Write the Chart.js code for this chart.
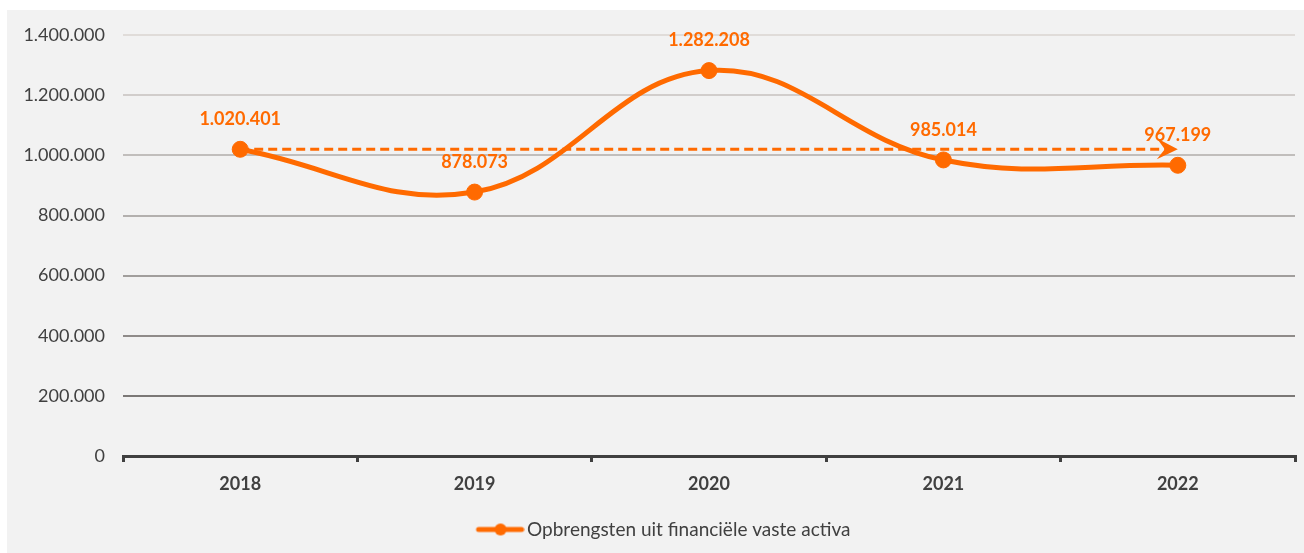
<!DOCTYPE html>
<html>
<head>
<meta charset="utf-8">
<script src="https://cdn.jsdelivr.net/npm/chart.js@4/dist/chart.umd.min.js"></script>
<style>
  html, body { margin: 0; padding: 0; background: #ffffff; }
  #wrap { position: absolute; left: 7px; top: 10px; width: 1297px; height: 543px; background: #f2f2f2; }
  canvas { display: block; }
</style>
</head>
<body>
<div id="wrap"><canvas id="chart" width="1297" height="543"></canvas></div>
<script>
// Opbrengsten uit financiële vaste activa per jaar
const years = ['2018', '2019', '2020', '2021', '2022'];
const revenue = [1020401, 878073, 1282208, 985014, 967199];
// Trendpijl vanaf de startwaarde van 2018 tot 2022
const trend = [1020401, null, null, null, 1020401];
const seriesName = 'Opbrengsten uit financiële vaste activa';
const yTicks = [0, 200000, 400000, 600000, 800000, 1000000, 1200000, 1400000];

const ORANGE = '#ff6a00';
const TEXT = '#404040';
const FONT = 'Lato, "Open Sans", sans-serif';

// Gridlines fade from dark at the bottom to light at the top
const gridShades = {
  200000: '#7b7876', 400000: '#8f8b89', 600000: '#a19e9c', 800000: '#b3b0ae',
  1000000: '#c1bebc', 1200000: '#d1cdcb', 1400000: '#e0dcd9'
};

function fmt(v) {
  return String(Math.round(v)).replace(/\B(?=(\d{3})+(?!\d))/g, '.');
}

// Legend symbol: line with a dot in the middle (left part of the image kept empty)
const legendIcon = document.createElement('canvas');
legendIcon.width = 78; legendIcon.height = 14;
(function () {
  const c = legendIcon.getContext('2d');
  c.strokeStyle = ORANGE; c.lineWidth = 5; c.lineCap = 'round';
  c.beginPath(); c.moveTo(32, 7); c.lineTo(75, 7); c.stroke();
  c.fillStyle = ORANGE; c.beginPath(); c.arc(54, 7, 6, 0, Math.PI * 2); c.fill();
})();

const valueLabels = {
  id: 'valueLabels',
  afterDatasetsDraw(chart) {
    const meta = chart.getDatasetMeta(0);
    const ctx = chart.ctx;
    ctx.save();
    ctx.font = 'bold 18px ' + FONT;
    ctx.fillStyle = ORANGE;
    ctx.textAlign = 'center';
    ctx.textBaseline = 'middle';
    meta.data.forEach((pt, i) => {
      ctx.fillText(fmt(revenue[i]), pt.x, pt.y - 30);
    });
    ctx.restore();
  }
};

const trendArrow = {
  id: 'trendArrow',
  afterDatasetDraw(chart, args) {
    if (args.index !== 1) return;
    const pts = args.meta.data;
    const end = pts[pts.length - 1];
    const ctx = chart.ctx;
    ctx.save();
    ctx.fillStyle = ORANGE;
    ctx.beginPath();
    ctx.moveTo(end.x, end.y);
    ctx.lineTo(end.x - 21, end.y - 11);
    ctx.lineTo(end.x - 13, end.y);
    ctx.lineTo(end.x - 21, end.y + 10);
    ctx.closePath();
    ctx.fill();
    ctx.restore();
  }
};

new Chart(document.getElementById('chart'), {
  type: 'line',
  data: {
    labels: years,
    datasets: [
      {
        label: seriesName,
        data: revenue,
        borderColor: ORANGE,
        backgroundColor: ORANGE,
        borderWidth: 5,
        tension: 0.4,
        pointRadius: 8,
        pointBorderWidth: 1,
        pointBackgroundColor: ORANGE,
        pointBorderColor: ORANGE,
        order: 1
      },
      {
        label: 'trend',
        data: trend,
        spanGaps: true,
        borderColor: ORANGE,
        borderWidth: 3,
        borderDash: [9, 5],
        tension: 0,
        pointRadius: 0,
        order: 2
      }
    ]
  },
  options: {
    responsive: false,
    animation: false,
    layout: { padding: { top: 22, right: 7, left: 0, bottom: 4 } },
    plugins: {
      tooltip: { enabled: false },
      legend: {
        position: 'bottom',
        labels: {
          filter: (item) => item.datasetIndex === 0,
          usePointStyle: true,
          pointStyleWidth: 64,
          boxHeight: 14,
          color: TEXT,
          font: { family: FONT, size: 19 },
          padding: 10,
          generateLabels: (chart) => [{
            text: seriesName,
            datasetIndex: 0,
            pointStyle: legendIcon,
            fillStyle: ORANGE,
            strokeStyle: ORANGE,
            lineWidth: 0,
            fontColor: TEXT
          }]
        }
      }
    },
    scales: {
      x: {
        offset: true,
        border: { display: true, color: TEXT, width: 3 },
        grid: {
          offset: true,
          drawOnChartArea: false,
          drawTicks: true,
          tickLength: 6,
          color: TEXT,
          lineWidth: 3
        },
        ticks: {
          color: TEXT,
          padding: 11,
          font: { family: FONT, size: 18, weight: 'bold' }
        },
        afterFit: (scale) => { scale.height = 54; }
      },
      y: {
        min: 0,
        max: 1400000,
        border: { display: false },
        afterBuildTicks: (scale) => { scale.ticks = yTicks.map(v => ({ value: v })); },
        grid: {
          drawTicks: false,
          lineWidth: 2,
          color: (c) => gridShades[c.tick.value] || 'rgba(0,0,0,0)'
        },
        ticks: {
          color: TEXT,
          padding: 18,
          font: { family: FONT, size: 18, lineHeight: 0.8 },
          callback: (v) => fmt(v)
        },
        afterFit: (scale) => { scale.width = 116; }
      }
    }
  },
  plugins: [valueLabels, trendArrow]
});
</script>
</body>
</html>
